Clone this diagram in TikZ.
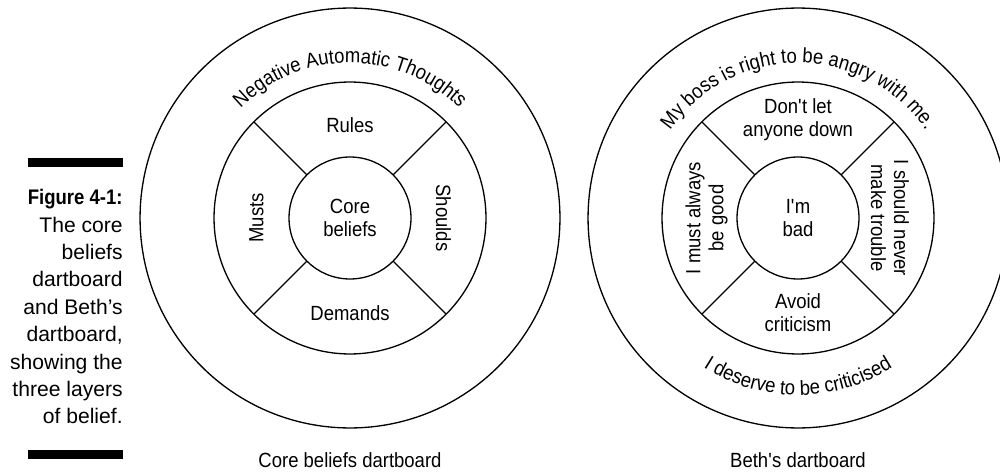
\documentclass[tikz,border=0pt]{standalone}
\usepackage{fontspec}
\setmainfont{Liberation Sans}
\newfontfamily\dbfam{Liberation Sans}[FakeStretch=0.9]
\newfontfamily\figfam{Liberation Sans}[FakeStretch=0.88]
\usetikzlibrary{decorations.text}
\newcommand\dbfont{\dbfam\fontsize{11.7}{13.1}\selectfont}
\newcommand\capfont{\fontsize{12}{15.6}\selectfont}
\begin{document}
\begin{tikzpicture}[x=0.02cm,y=0.02cm]
\useasboundingbox (0,0) rectangle (1000,474);
\clip (0,0) rectangle (1000,474);
\tikzset{
  ring/.style={circle, draw, line width=0.75pt, inner sep=0pt, outer sep=0pt},
  lbl/.style={font=\dbfont, align=center, inner sep=0pt},
  divider/.style={line width=0.75pt},
  bar/.style={fill=black},
}
% ---------- left dartboard ----------
\node[ring, minimum size=8.4cm] (Lout) at (350,256) {};
\node[ring, minimum size=5.44cm] (Lmid) at (350,256) {};
\node[ring, minimum size=2.44cm, lbl] (Lin) at (350,256) {Core\\beliefs};
\foreach \a in {45,135,225,315} \draw[divider] (Lin.\a) -- (Lmid.\a);
\node[lbl] (Lrules) at (350,349) {Rules};
\node[lbl] (Ldem) at (350,160.5) {Demands};
\node[lbl, rotate=90] (Lmusts) at (256.5,256) {Musts};
\node[lbl, rotate=-90] (Lshoulds) at (443.5,256) {Shoulds};
\path[decorate, decoration={text along path, text align=center,
  text={|\dbfont|Negative Automatic Thoughts}}]
  (195,256) arc[start angle=180, end angle=0, radius=155];
\node[lbl, anchor=base] (Lcap) at (350,7) {Core beliefs dartboard};
% ---------- right dartboard ----------
\node[ring, minimum size=8.4cm] (Rout) at (798,256) {};
\node[ring, minimum size=5.44cm] (Rmid) at (798,256) {};
\node[ring, minimum size=2.44cm, lbl] (Rin) at (798,256) {I\textquotesingle m\\bad};
\foreach \a in {45,135,225,315} \draw[divider] (Rin.\a) -- (Rmid.\a);
\node[lbl] (Rtop) at (798,354) {Don\textquotesingle t let\\anyone down};
\node[lbl] (Rbot) at (798,161) {Avoid\\criticism};
\node[lbl, rotate=90] (Rleft) at (706.5,256) {I must always\\be good};
\node[lbl, rotate=-90] (Rright) at (890,256) {I should never\\make trouble};
\path[decorate, decoration={text along path, text align=center,
  text={|\dbfont|My boss is right to be angry with me.}}]
  (643,256) arc[start angle=180, end angle=0, radius=155];
\path[decorate, decoration={text along path, text align=center,
  text={|\dbfont|I deserve to be criticised}}]
  (621,256) arc[start angle=180, end angle=360, radius=177];
\node[lbl, anchor=base] (Rcap) at (798,7) {Beth\textquotesingle s dartboard};
% ---------- figure caption ----------
\fill[bar] (28,307) rectangle (123,316);
\node[anchor=north east, align=right, inner sep=0pt, font=\capfont] (fig) at (123,285)
  {{\figfam\bfseries Figure 4-1:}\\The core\\beliefs\\dartboard\\and Beth’s\\dartboard,\\showing the\\three layers\\of belief.};
\fill[bar] (28,15) rectangle (123,24);
\end{tikzpicture}
\end{document}
